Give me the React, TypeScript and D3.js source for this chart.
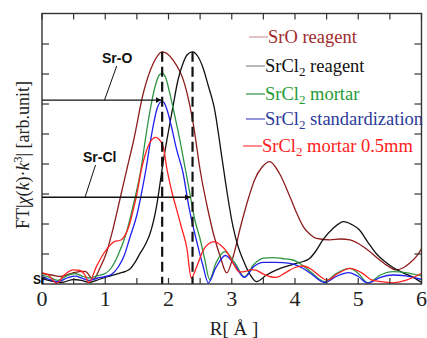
import React from "react";
import * as d3 from "d3";

type P = [number, number];

const sroReagent: P[] = [[0,0.35],[0.15,0.3],[0.3,0.25],[0.5,0.38],[0.68,0.42],[0.81,0.16],[0.92,0.55],[1.02,1.05],[1.13,1.9],[1.24,2.9],[1.35,3.9],[1.45,4.8],[1.6,6.35],[1.76,7.36],[1.9,7.74],[2.07,7.47],[2.28,6.47],[2.39,5.36],[2.5,3.8],[2.62,2.5],[2.72,1.6],[2.82,0.9],[2.92,0.37],[3.02,0.9],[3.15,2.0],[3.27,2.9],[3.36,3.47],[3.48,3.9],[3.6,4.08],[3.75,3.7],[3.92,2.91],[4.03,2.35],[4.13,1.91],[4.24,1.65],[4.34,1.52],[4.55,1.47],[4.72,1.5],[4.87,1.47],[5.0,1.35],[5.08,1.24],[5.2,1.05],[5.34,0.8],[5.47,0.6],[5.6,0.47],[5.72,0.55],[5.81,0.69],[5.92,0.92],[6.0,1.17]];

const srcl2Reagent: P[] = [[0,0.18],[0.15,0.1],[0.3,0.05],[0.5,0.15],[0.62,0.12],[0.75,0.05],[0.9,0.15],[1.05,0.25],[1.23,0.36],[1.32,0.42],[1.39,0.5],[1.47,0.72],[1.55,1.02],[1.63,1.3],[1.71,1.69],[1.81,2.58],[1.92,4.13],[2.0,5.1],[2.07,5.91],[2.15,6.8],[2.23,7.36],[2.3,7.65],[2.38,7.74],[2.46,7.6],[2.54,7.24],[2.63,6.6],[2.72,5.91],[2.85,4.13],[2.93,3.0],[3.02,1.91],[3.1,1.25],[3.18,0.8],[3.28,0.35],[3.39,0.08],[3.55,0.3],[3.71,0.47],[3.85,0.58],[4.02,0.69],[4.13,0.75],[4.23,0.85],[4.33,1.1],[4.44,1.47],[4.6,1.85],[4.77,2.08],[4.9,1.98],[5.02,1.8],[5.15,1.4],[5.29,1.0],[5.42,0.75],[5.55,0.55],[5.7,0.38],[5.87,0.22],[6.0,0.05]];

const srcl2Mortar: P[] = [[0,0.3],[0.12,0.22],[0.25,0.12],[0.4,0.28],[0.52,0.35],[0.65,0.25],[0.75,0.2],[0.88,0.28],[1.0,0.35],[1.1,0.55],[1.2,0.95],[1.34,1.75],[1.44,2.6],[1.57,3.9],[1.64,4.9],[1.71,5.8],[1.79,6.6],[1.86,6.98],[1.91,7.02],[1.96,6.85],[2.02,6.36],[2.1,5.6],[2.18,4.8],[2.26,3.9],[2.34,3.0],[2.42,2.1],[2.5,1.5],[2.57,0.85],[2.65,0.15],[2.75,0.7],[2.89,1.08],[3.05,0.7],[3.2,0.24],[3.35,0.65],[3.5,0.86],[3.65,0.88],[3.8,0.85],[3.97,0.8],[4.1,0.65],[4.25,0.4],[4.47,0.08],[4.65,0.35],[4.87,0.52],[5.0,0.35],[5.15,0.04],[5.35,0.3],[5.55,0.41],[5.75,0.38],[6.0,0.27]];

const srcl2Standard: P[] = [[0,0.25],[0.12,0.15],[0.25,0.08],[0.4,0.2],[0.52,0.26],[0.65,0.18],[0.75,0.12],[0.88,0.2],[1.0,0.25],[1.1,0.32],[1.2,0.55],[1.3,0.95],[1.39,1.55],[1.5,2.3],[1.58,3.1],[1.65,3.9],[1.71,4.7],[1.76,5.3],[1.82,5.85],[1.88,6.06],[1.92,6.06],[1.97,5.85],[2.04,5.3],[2.13,4.47],[2.23,3.7],[2.32,2.6],[2.44,1.47],[2.54,0.65],[2.63,0.04],[2.75,0.55],[2.9,0.95],[3.05,0.62],[3.2,0.22],[3.35,0.58],[3.5,0.72],[3.7,0.72],[3.92,0.69],[4.1,0.55],[4.25,0.35],[4.47,0.05],[4.65,0.25],[4.85,0.38],[5.0,0.25],[5.15,0.03],[5.35,0.22],[5.55,0.3],[5.75,0.27],[6.0,0.15]];

const srcl2Mortar05: P[] = [[0,0.38],[0.1,0.3],[0.23,0.02],[0.35,0.3],[0.5,0.47],[0.6,0.45],[0.68,0.3],[0.74,0.05],[0.86,0.58],[0.97,1.0],[1.07,1.28],[1.15,1.42],[1.23,1.45],[1.3,1.58],[1.37,1.9],[1.44,2.45],[1.5,3.0],[1.57,3.8],[1.63,4.3],[1.68,4.6],[1.74,4.82],[1.8,4.89],[1.86,4.8],[1.92,4.55],[1.97,3.9],[2.05,3.1],[2.13,2.47],[2.21,1.85],[2.29,1.2],[2.36,0.2],[2.45,0.6],[2.55,1.13],[2.64,1.35],[2.72,1.41],[2.82,1.3],[2.92,1.08],[3.02,0.7],[3.12,0.4],[3.22,0.42],[3.3,0.48],[3.38,0.46],[3.5,0.33],[3.6,0.25],[3.7,0.22],[3.85,0.38],[4.0,0.55],[4.13,0.6],[4.25,0.5],[4.4,0.25],[4.5,0.13],[4.68,0.35],[4.87,0.52],[5.05,0.38],[5.22,0.13],[5.4,0.07],[5.55,0.04],[5.75,0.12],[5.9,0.25],[6.0,0.36]];

const seriesNames = ["SrO reagent", "SrCl2 reagent", "SrCl2 mortar", "SrCl2 standardization", "SrCl2 mortar 0.5mm"];
const seriesData = [sroReagent, srcl2Reagent, srcl2Mortar, srcl2Standard, srcl2Mortar05];
const lineColors = ["#8e1d1d", "#111111", "#2e9444", "#1f1fee", "#ff2020"];
const textColors = ["#a02a2a", "#111111", "#1f9a35", "#2b3a9a", "#ff2020"];
const legendLineColors = ["#d09a9a", "#888888", "#2e9444", "#4a4acc", "#ff4040"];

const xTicks = [0, 1, 2, 3, 4, 5, 6];
const dashedPeaks = [1.9, 2.38];
const peakTop = 7.74;
const arrowLabels = ["Sr-O", "Sr-Cl"];
const arrowLevels = [6.13, 2.89];
const arrowTips = [1.89, 2.35];

const W = 427, H = 338;
const L = 42, R = 421.5, T = 13.5, B = 284;

export default function App() {
  const x = d3.scaleLinear().domain([0, 6]).range([L, R]);
  const y = d3.scaleLinear().domain([0, 9.017]).range([B, T]);
  const line = d3.line<P>().x(d => x(d[0])).y(d => y(d[1])).curve(d3.curveMonotoneX);
  const minor = d3.range(0, 6.01, 0.5);
  const yT = d3.range(1, 9, 1);
  const serif = "Liberation Serif, Tinos, Times New Roman, Times, DejaVu Serif, serif";
  const sans = "Liberation Sans, Arial, sans-serif";

  const legendY = [43, 72, 100, 125, 152];
  const legendTextX = [268, 265, 265, 265, 262];

  const renderName = (name: string) => {
    if (name.startsWith("SrCl2")) {
      return (
        <>
          SrCl<tspan dy={4} fontSize={13}>2</tspan>
          <tspan dy={-4}>{name.slice(5)}</tspan>
        </>
      );
    }
    return name;
  };

  const tickLen = 6;

  return (
    <svg width={W} height={H} style={{ position: "absolute", left: 0, top: 0, background: "#fff" }}>
      <defs>
        <clipPath id="plotclip">
          <rect x={L} y={T} width={R - L} height={B - T} />
        </clipPath>
        <marker id="arrowhead" viewBox="0 0 10 10" refX="10" refY="5" markerWidth="6" markerHeight="6" orient="auto" markerUnits="userSpaceOnUse">
          <path d="M0,0 L10,5 L0,10 Z" fill="#111" />
        </marker>
      </defs>
      <rect width={W} height={H} fill="#fff" />

      <g clipPath="url(#plotclip)">
        {seriesData.map((d, i) => (
          <path key={i} d={line(d) || ""} fill="none" stroke={lineColors[i]} strokeWidth={1.3} />
        ))}
      </g>

      {dashedPeaks.map((r, i) => (
        <line key={i} x1={x(r)} x2={x(r)} y1={y(peakTop)} y2={B} stroke="#111" strokeWidth={2.2} strokeDasharray="10,5" />
      ))}

      <rect x={L} y={T} width={R - L} height={B - T} fill="none" stroke="#333" strokeWidth={1.4} />
      {minor.map((v, i) => (
        <g key={"xt" + i}>
          <line x1={x(v)} x2={x(v)} y1={B} y2={B - tickLen} stroke="#333" strokeWidth={1.2} />
          <line x1={x(v)} x2={x(v)} y1={T} y2={T + tickLen} stroke="#333" strokeWidth={1.2} />
        </g>
      ))}
      {yT.map((v, i) => (
        <g key={"yt" + i}>
          <line x1={L} x2={L + 7} y1={y(v)} y2={y(v)} stroke="#333" strokeWidth={1.2} />
          <line x1={R} x2={R - 7} y1={y(v)} y2={y(v)} stroke="#333" strokeWidth={1.2} />
        </g>
      ))}

      <text x={33} y={284} fontFamily={sans} fontWeight="bold" fontSize={12} fill="#111">Sr</text>

      {xTicks.map(t => (
        <text key={t} x={x(t)} y={306} textAnchor="middle" fontFamily={serif} fontSize={22} fill="#222">{t}</text>
      ))}

      <text x={234} y={335} textAnchor="middle" fontFamily={serif} fontSize={19} fill="#222">R[ Å ]</text>
      <text transform="translate(29,155) rotate(-90)" textAnchor="middle" fontFamily={serif} fontSize={18} fill="#222">
        FT|<tspan fontStyle="italic">χ</tspan>(<tspan fontStyle="italic">k</tspan>)·<tspan fontStyle="italic">k</tspan>
        <tspan dy={-7} fontSize={12}>3</tspan><tspan dy={7}>| [arb.unit]</tspan>
      </text>

      {arrowLabels.map((lab, i) => (
        <line key={"a" + i} x1={L} x2={x(arrowTips[i])} y1={y(arrowLevels[i])} y2={y(arrowLevels[i])} stroke="#111" strokeWidth={1.4} markerEnd="url(#arrowhead)" />
      ))}
      <line x1={116.7} y1={66} x2={104.5} y2={y(arrowLevels[0])} stroke="#111" strokeWidth={1} />
      <line x1={95.5} y1={165} x2={85} y2={y(arrowLevels[1])} stroke="#111" strokeWidth={1} />
      <text x={102} y={63} fontFamily={sans} fontWeight="bold" fontSize={14} fill="#111">{arrowLabels[0]}</text>
      <text x={83} y={162} fontFamily={sans} fontWeight="bold" fontSize={14} fill="#111">{arrowLabels[1]}</text>

      {seriesNames.map((n, i) => (
        <g key={"lg" + i}>
          <line x1={legendTextX[i] - 19} x2={legendTextX[i]} y1={legendY[i] - 6} y2={legendY[i] - 6} stroke={legendLineColors[i]} strokeWidth={1.2} />
          <text x={legendTextX[i]} y={legendY[i]} fontFamily={serif} fontSize={18.5} fill={textColors[i]}>{renderName(n)}</text>
        </g>
      ))}
    </svg>
  );
}
